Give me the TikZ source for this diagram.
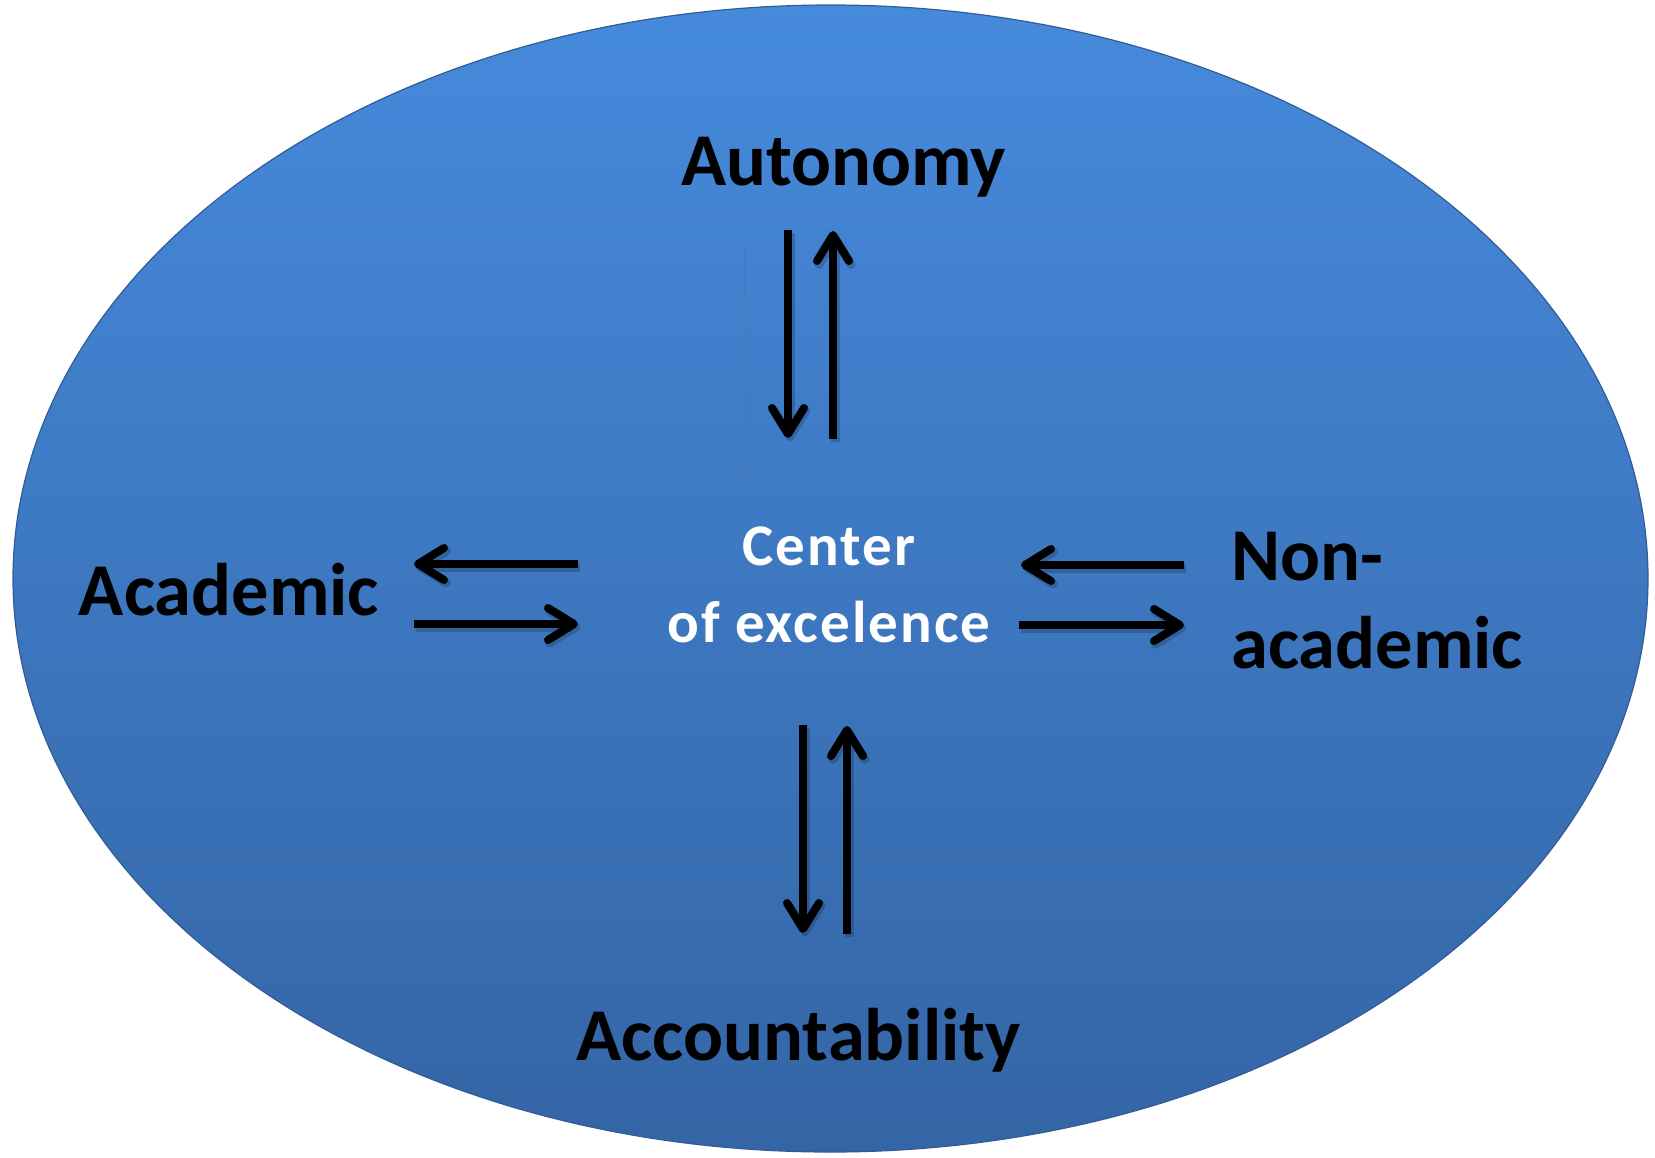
\documentclass[tikz,border=0pt]{standalone}
\usepackage{fontspec}
\setmainfont{Carlito}
\usetikzlibrary{arrows.meta}
\definecolor{topblue}{RGB}{70,138,220}
\definecolor{botblue}{RGB}{52,101,165}
\definecolor{rimblue}{RGB}{50,92,150}
\definecolor{faintline}{RGB}{85,115,160}
\tikzset{
  flow/.style={line width=8pt, black, -{Straight Barb[length=26pt,width=32pt,line cap=round,line join=round]}},
  flowshadow/.style={line width=9pt, black, opacity=0.18, -{Straight Barb[length=26pt,width=32pt,line cap=round,line join=round]}, transform canvas={shift={(2pt,-3pt)}}},
  faint/.style={line width=1pt, faintline, opacity=0.6, -{Straight Barb[length=14pt,width=20pt]}},
  bigtxt/.style={inner sep=0pt, font=\fontsize{74.5}{88}\selectfont\bfseries, black},
  midtxt/.style={inner sep=0pt, font=\fontsize{59}{77}\selectfont\bfseries\addfontfeature{LetterSpace=3.5}, white}
}
\begin{document}
\begin{tikzpicture}[x=1pt,y=-1pt]
\useasboundingbox (0,0) rectangle (1655,1157);
% background ellipse
\shade[top color=topblue, bottom color=botblue, draw=rimblue, line width=1.2pt]
  (830.5,578.5) ellipse [x radius=817.5, y radius=573.5];
% labels
\node[bigtxt, anchor=base] (auto) at (843.5,185) {Autonomy};
\node[bigtxt, anchor=base] (acc) at (798.5,1060) {Accountability};
\node[bigtxt, anchor=base] (acad) at (229,615) {Academic};
\node[bigtxt, anchor=base west] (nonacad) at (1231,580) {\begin{tabular}[t]{@{}l@{}}Non-\\academic\end{tabular}};
\node[midtxt, anchor=base] (center) at (829,565) {\begin{tabular}[t]{@{}c@{}}Center\\of excelence\end{tabular}};
% arrow end points
\coordinate (t1a) at (788,230); \coordinate (t1b) at (788,438);
\coordinate (t2a) at (833,439); \coordinate (t2b) at (833,231);
\coordinate (b1a) at (803,725); \coordinate (b1b) at (803,933);
\coordinate (b2a) at (847,934); \coordinate (b2b) at (847,726);
\coordinate (l1a) at (578,564); \coordinate (l1b) at (414,564);
\coordinate (l2a) at (414,624); \coordinate (l2b) at (578,624);
\coordinate (r1a) at (1184,565); \coordinate (r1b) at (1021,565);
\coordinate (r2a) at (1019,625); \coordinate (r2b) at (1184,625);
\coordinate (fa) at (744,245); \coordinate (fb) at (744,483);
% arrow shadows
\foreach \s/\e in {t1a/t1b,t2a/t2b,b1a/b1b,b2a/b2b,l1a/l1b,l2a/l2b,r1a/r1b,r2a/r2b}
  \draw[flowshadow] (\s) -- (\e);
% arrows
\draw[flow] (t1a) -- (t1b);
\draw[flow] (t2a) -- (t2b);
\draw[flow] (b1a) -- (b1b);
\draw[flow] (b2a) -- (b2b);
\draw[flow] (l1a) -- (l1b);
\draw[flow] (l2a) -- (l2b);
\draw[flow] (r1a) -- (r1b);
\draw[flow] (r2a) -- (r2b);
\draw[faint] (fa) -- (fb);
\end{tikzpicture}
\end{document}
